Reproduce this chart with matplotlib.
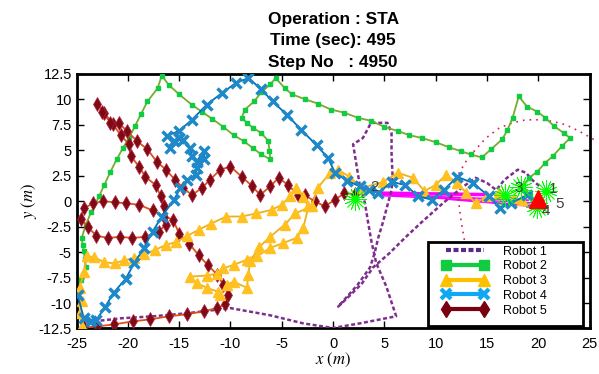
import matplotlib
matplotlib.use("Agg")
import matplotlib.pyplot as plt
from matplotlib.lines import Line2D
from matplotlib.patches import Rectangle
from matplotlib.ticker import FuncFormatter

# robot trajectories (x, y) in metres
r1_x = [-23.3, -20.7, -17.5, -14.2, -10.0, -6.15, -2.9, 0.0, 2.6, 6.15, 5.2, 4.2, 3.75, 3.4, 3.1, 2.6, 1.95, 2.9, 3.7, 5.3, 5.7, 5.7, 5.8, 5.7, 4.85, 4.4, 4.05, 3.6, 2.4, 0.5, 1.6, 2.8, 3.9, 5.5, 7.1, 8.7, 10.7, 12.5, 13.9, 15.0, 15.9, 16.7, 18.0, 18.8, 19.4, 20.1]
r1_y = [-11.8, -11.5, -11.3, -11.0, -10.5, -11.2, -12.0, -12.45, -12.0, -11.3, -8.4, -6.05, -4.0, -2.0, -0.15, 1.6, 5.6, 6.2, 7.7, 7.7, 6.7, 4.7, 2.4, 1.1, -2.1, -3.6, -5.1, -6.5, -8.2, -10.35, -9.3, -8.1, -6.5, -5.1, -3.5, -2.0, -0.2, 1.3, 2.3, 1.8, 1.1, 2.1, 3.1, 2.8, 2.1, 1.5]

r2_x = [-24.7, -24.6, -24.1, -24.2, -24.3, -24.4, -24.5, -24.1, -23.6, -22.8, -22.3, -21.7, -21.1, -20.5, -19.9, -19.3, -18.7, -18.1, -17.1, -16.7, -16.0, -15.0, -13.8, -12.8, -11.8, -10.7, -9.7, -8.7, -7.8, -7.0, -6.1, -6.2, -6.3, -7.0, -7.8, -8.4, -8.9, -8.6, -7.7, -7.0, -6.1, -5.6, -4.7, -4.0, -2.7, -1.5, -0.2, 1.1, 2.4, 3.7, 5.0, 6.3, 7.4, 8.7, 10.0, 11.3, 12.5, 13.4, 14.5, 15.4, 16.5, 17.0, 17.5, 18.1, 18.9, 19.9, 20.7, 21.5, 22.5, 23.1, 22.3, 21.4, 20.7, 19.9, 19.1, 18.5, 19.2]
r2_y = [-8.7, -7.7, -6.5, -5.7, -4.9, -4.3, -3.6, -2.3, -1.1, 0.5, 1.6, 2.9, 4.1, 5.2, 6.2, 7.4, 8.6, 9.8, 11.1, 12.35, 11.4, 10.5, 9.5, 8.8, 8.1, 7.3, 6.5, 5.9, 5.2, 4.6, 4.1, 4.9, 5.9, 6.7, 7.2, 7.7, 8.2, 9.0, 9.8, 10.7, 11.5, 12.1, 11.1, 10.5, 10.0, 9.6, 9.0, 8.7, 8.2, 7.9, 7.3, 6.9, 6.5, 6.2, 5.8, 5.3, 4.9, 4.6, 4.3, 5.1, 6.1, 7.0, 8.2, 10.3, 9.3, 8.8, 8.2, 7.4, 6.7, 6.2, 5.4, 4.4, 3.8, 2.9, 2.3, 1.5, 0.6]

r3_x = [-24.5, -24.7, -24.5, -24.7, -24.3, -24.0, -23.3, -22.3, -21.3, -20.4, -19.4, -18.4, -17.4, -16.3, -15.3, -14.2, -13.1, -11.9, -10.4, -8.9, -7.5, -6.0, -5.0, -4.2, -3.6, -2.9, -2.4, -2.9, -3.55, -4.85, -6.15, -7.4, -8.4, -9.7, -10.7, -11.3, -12.3, -13.9, -13.3, -12.3, -11.2, -11.0, -10.35, -9.7, -8.4, -8.25, -8.1, -7.2, -6.15, -4.7, -3.7, -2.1, -1.5, -0.3, 0.5, 1.6, 2.8, 4.9, 6.3, 7.8, 8.9, 10.0, 11.0, 12.1, 13.0, 13.9, 15.0, 16.2, 17.6, 18.4]
r3_y = [-12.3, -11.0, -9.8, -8.5, -7.0, -5.4, -5.5, -6.0, -6.1, -5.8, -5.6, -5.2, -4.8, -4.3, -4.0, -3.4, -2.8, -2.2, -1.5, -1.5, -1.2, -0.85, -0.35, 0.5, 1.3, 0.4, -0.5, -2.6, -3.6, -4.1, -4.6, -5.4, -5.75, -6.25, -6.6, -7.1, -7.3, -7.4, -8.05, -8.5, -8.9, -9.2, -8.2, -7.9, -8.5, -7.2, -5.9, -4.5, -3.5, -2.3, -1.2, -0.5, 1.3, 2.8, 3.1, 2.4, 1.3, 1.9, 2.8, 2.3, 1.0, 1.6, 2.6, 1.8, 0.8, -0.2, 0.5, 0.8, 0.3, 0.15]

r4_x = [-24.9, -24.3, -23.6, -23.1, -22.2, -21.4, -20.2, -19.4, -18.45, -17.6, -16.7, -15.5, -14.9, -14.2, -13.4, -13.3, -12.55, -12.6, -13.3, -13.75, -13.9, -14.6, -15.05, -15.9, -15.5, -16.2, -15.05, -13.75, -12.3, -10.8, -9.5, -8.25, -7.0, -5.9, -4.5, -3.1, -1.6, -0.5, 0.2, 1.4, 2.6, 3.5, 4.4, 5.7, 7.0, 8.3, 9.6, 10.8, 12.1, 13.6, 15.2, 16.3, 17.3, 18.9]
r4_y = [-9.2, -11.5, -11.8, -11.7, -10.35, -9.0, -7.6, -6.1, -4.6, -3.0, -1.5, 0.15, 1.3, 2.1, 2.6, 3.3, 4.1, 4.9, 3.9, 4.4, 5.2, 6.05, 6.2, 5.2, 5.9, 6.4, 6.9, 8.0, 9.5, 10.65, 11.6, 12.1, 11.0, 9.8, 8.5, 7.0, 5.5, 4.25, 2.8, 2.0, 1.46, 1.1, 0.8, 1.9, 1.6, 0.5, 0.15, 1.1, 2.4, 1.8, 0.5, -0.7, -0.2, 0.6]

r5_x = [-24.3, -23.0, -21.4, -19.5, -17.8, -16.0, -14.2, -12.6, -11.3, -10.5, -10.2, -10.7, -11.3, -12.2, -13.1, -14.0, -15.0, -15.6, -16.5, -17.6, -18.9, -20.2, -21.3, -22.4, -23.4, -24.3, -24.6, -23.9, -23.1, -21.9, -20.8, -19.6, -18.3, -17.0, -16.3, -16.5, -16.8, -17.3, -18.3, -18.9, -19.7, -19.9, -20.7, -21.5, -22.3, -23.0, -22.5, -21.7, -20.9, -20.1, -19.1, -18.1, -17.2, -16.3, -15.4, -14.6, -13.75, -12.8, -12.0, -11.0, -10.0, -8.9, -7.9, -7.1, -6.1, -5.3, -4.4, -3.4, -2.75, -1.8, -0.8, 0.2, 1.1, 2.1]
r5_y = [-12.4, -12.3, -12.1, -11.8, -11.6, -11.3, -11.1, -10.8, -10.5, -10.1, -9.2, -8.2, -7.2, -6.3, -5.3, -4.2, -3.2, -1.8, -1.5, -0.9, -0.35, -0.2, -0.1, 0.0, -0.2, -0.7, -1.7, -2.5, -3.4, -3.6, -3.5, -3.6, -3.5, -3.0, -2.3, -0.5, 0.5, 1.6, 2.4, 3.4, 4.4, 5.6, 6.5, 7.6, 8.7, 9.6, 8.8, 7.7, 7.7, 6.9, 5.9, 5.1, 3.9, 3.1, 2.1, 1.3, 0.6, 1.3, 2.1, 3.1, 3.4, 2.4, 1.5, 0.6, 1.5, 2.3, 1.6, 0.6, 0.6, 0.0, -0.5, 0.15, 0.8, 0.7]

# dotted reference arc
arc_x = [12.8, 12.5, 12.1, 12.3, 12.95, 13.9, 14.9, 16.2, 17.5, 18.8, 20.1, 21.4, 22.7, 23.95, 25.1, 25.8]
arc_y = [-3.8, -2.1, 1.1, 2.8, 3.9, 5.1, 6.2, 7.2, 7.7, 8.0, 8.0, 7.85, 7.5, 6.9, 6.25, 5.85]

# magenta links towards the target
link_x0 = [4.5, 4.5, 4.5, 9.0, 11.0]
link_y0 = [0.8, 0.65, 0.55, 0.45, 0.2]
link_x1 = [15.0, 19.0, 20.5, 19.5, 20.5]
link_y1 = [0.65, 0.1, -0.2, -0.45, -0.6]
link_w = [2.5, 1.3, 1.0, 1.0, 1.0]

# sensing bursts and target
burst_x = [2.1, 16.8, 19.9, 20.8, 18.3]
burst_y = [0.2, 0.6, -0.6, 1.0, 1.4]
target = (20.0, 0.25)

id_text = ["2", "3", "1", "5", "4"]
id_x = [3.6, 17.7, 21.0, 21.7, 20.3]
id_y = [1.4, 1.3, 1.2, -0.25, -1.0]

xticks = [-25, -20, -15, -10, -5, 0, 5, 10, 15, 20, 25]
yticks = [-12.5, -10, -7.5, -5, -2.5, 0, 2.5, 5, 7.5, 10, 12.5]

plt.rcParams['font.family'] = ['Liberation Sans', 'DejaVu Sans']
plt.rcParams['mathtext.fontset'] = 'stix'

fig = plt.figure(figsize=(5.99, 3.74), dpi=100)
ax = fig.add_axes([0.1279, 0.1217, 0.8563, 0.6805])

for i in range(len(link_x0)):
    ax.plot([link_x0[i], link_x1[i]], [link_y0[i], link_y1[i]], color='#FF00FF', lw=link_w[i], zorder=2)

ax.plot(arc_x, arc_y, color='#D0205A', lw=1.2, ls=(0, (1, 3)), clip_on=False, zorder=2)

ax.plot(r1_x, r1_y, color='#7E2F8E', lw=1.8, ls=(0, (1.6, 1.0)), zorder=3)
ax.plot(r2_x, r2_y, color='#77AC30', lw=1.3, marker='s', ms=3.5,
        mfc='#10CC40', mec='#10CC40', zorder=4)
ax.plot(r5_x, r5_y, color='#D95319', lw=1.3, marker='d', ms=7,
        mfc='#7E0A14', mec='#B02040', mew=0.5, zorder=4)
ax.plot(r3_x, r3_y, color='#EDB120', lw=1.3, marker='^', ms=6.5,
        mfc='#FFC020', mec='#FFC020', zorder=5)
ax.plot(r4_x, r4_y, color='#0072BD', lw=1.3, marker='x', ms=7,
        mec='#1E88C8', mew=2.5, zorder=5)

ax.plot(burst_x, burst_y, ls='none', marker=(16, 2, 0), ms=16, mec='#00FF00', mew=0.6, zorder=6)
ax.plot([target[0]], [target[1]], ls='none', marker='^', ms=13, color='#FF0000', zorder=7)

for t, x, y in zip(id_text, id_x, id_y):
    ax.text(x, y, t, fontsize=11, color='#404040', ha='left', va='center', zorder=8)

ax.set_xlim(-25, 25)
ax.set_ylim(-12.5, 12.5)
ax.set_xticks(xticks)
ax.set_yticks(yticks)
ax.xaxis.set_major_formatter(FuncFormatter(lambda v, p: '%g' % v))
ax.yaxis.set_major_formatter(FuncFormatter(lambda v, p: '%g' % v))
ax.tick_params(direction='in', top=True, right=True, length=5, width=1, labelsize=10.5)
ax.tick_params(axis='x', pad=6)
for s in ax.spines.values():
    s.set_linewidth(2)

ax.set_xlabel(r'$x\ \mathrm{(}m\mathrm{)}$', fontsize=12, labelpad=0)
ax.set_ylabel(r'$y\ \mathrm{(}m\mathrm{)}$', fontsize=12, labelpad=0)
ax.set_title('Operation : STA\nTime (sec): 495\nStep No   : 4950',
             fontsize=12.5, fontweight='bold', linespacing=1.55, pad=5)

# legend box drawn separately so it can be wider than its contents
box = Rectangle((0.685, 0.01), 0.302, 0.33, transform=ax.transAxes, facecolor='white',
                edgecolor='black', lw=2, zorder=9)
ax.add_patch(box)

handles = [
    Line2D([], [], color='#5B2A86', lw=3, ls=(0, (1.2, 0.6))),
    Line2D([], [], color='#10CC40', lw=3, marker='s', ms=7),
    Line2D([], [], color='#FFC000', lw=3, marker='^', ms=8),
    Line2D([], [], color='#10A8F0', lw=3, marker='x', ms=7, mew=3),
    Line2D([], [], color='#7A0010', lw=3, marker='d', ms=8),
]
labels = ['Robot 1', 'Robot 2', 'Robot 3', 'Robot 4', 'Robot 5']
leg = ax.legend(handles, labels, loc='upper left', bbox_to_anchor=(0.69, 0.37),
                fontsize=9, numpoints=2, handlelength=3.7, labelspacing=0.22,
                frameon=False, borderpad=0.4, handletextpad=1.2)
leg.set_zorder(10)

fig.savefig('out.png', dpi=100)
